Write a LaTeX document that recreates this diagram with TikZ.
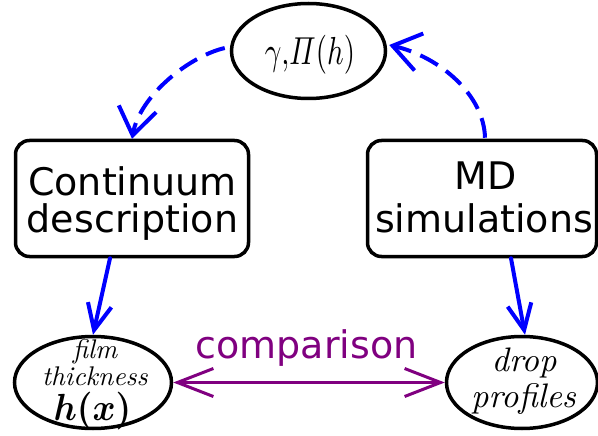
\documentclass[tikz,border=0pt]{standalone}
\usepackage{amsmath}
\usepackage{graphicx}
\usepackage{fontspec}
\newfontfamily\dejavu{DejaVu Sans}
\newfontfamily\lmtenit{lmroman10-italic.otf}
\DeclareFontShape{OML}{cmm}{m}{it}{<->cmmi10}{}
\DeclareFontShape{OML}{cmm}{b}{it}{<->cmmib10}{}
\DeclareFontShape{OT1}{cmr}{m}{n}{<->cmr10}{}
\DeclareFontShape{OT1}{cmr}{bx}{n}{<->cmbx10}{}
\DeclareFontShape{OMS}{cmsy}{m}{n}{<->cmsy10}{}
\DeclareFontShape{OMS}{cmsy}{b}{n}{<->cmbsy10}{}
\usetikzlibrary{arrows.meta,calc,shapes.geometric}
\definecolor{cmpurple}{RGB}{128,0,128}
\definecolor{cmblue}{RGB}{0,0,255}
\tikzset{
  ell/.style={draw, ellipse, line width=3.5pt, inner sep=0pt},
  procbox/.style={draw, rounded corners=14pt, line width=3.5pt, inner sep=0pt},
  sanstxt/.style={font=\dejavu\fontsize{38}{38}\selectfont, inner sep=0pt, anchor=base},
  ittxt/.style={font=\lmtenit\fontsize{27}{27}\selectfont, inner sep=0pt, anchor=base},
  itbig/.style={font=\lmtenit\fontsize{34}{34}\selectfont, inner sep=0pt, anchor=base},
  mathtxt/.style={font=\fontsize{34}{34}\selectfont, inner sep=0pt, anchor=base},
  solidarrow/.style={draw=cmblue, line width=4pt, line cap=round,
    -{Straight Barb[length=26pt, width=24pt]}},
  dasharrow/.style={draw=cmblue, line width=4pt, dash pattern=on 20pt off 10pt,
    -{Straight Barb[length=27pt, width=38pt]}},
  cmparrow/.style={draw=cmpurple, line width=3pt,
    {Straight Barb[length=36pt, width=28pt]}-{Straight Barb[length=36pt, width=28pt]}},
}
\begin{document}
\begin{tikzpicture}[x=1pt,y=-1pt]
\useasboundingbox (0,0) rectangle (598,436);
\fill[white] (0,0) rectangle (598,436);
% shapes
\node[ell, minimum width=154pt, minimum height=95pt] (gam) at (308.5,51) {};
\node[procbox, minimum width=233pt, minimum height=116pt] (cont) at (132,198.5) {};
\node[procbox, minimum width=229pt, minimum height=116pt] (md) at (482,198.5) {};
\node[ell, minimum width=157pt, minimum height=92pt] (thick) at (93,382.5) {};
\node[ell, minimum width=151pt, minimum height=92pt] (prof) at (522,382.5) {};
% texts
\node[mathtxt] (gtxt) at (310,65) {\scalebox{0.85}[1.15]{$\gamma{,}\varPi(h)$}};
\node[sanstxt] (c1) at (132.5,195.5) {Continuum};
\node[sanstxt] (c2) at (132.5,233) {description};
\node[sanstxt] (m1) at (486,189.5) {MD};
\node[sanstxt] (m2) at (484,232.5) {simulations};
\node[ittxt] (t1) at (95,358) {film};
\node[ittxt] (t2) at (95,385) {thickness};
\node[mathtxt, font=\fontsize{35}{35}\selectfont] (t3) at (92.5,420) {\scalebox{1}[1.08]{$\boldsymbol{h(x)}$}};
\node[itbig] (p1) at (524,371) {drop};
\node[itbig] (p2) at (523.5,407) {profiles};
\node[sanstxt, text=cmpurple] (cmp) at (306.5,358) {comparison};
% connectors
\draw[dasharrow] ($(gam.west)+(-5,-3)$) .. controls (190,56) and (140,95) .. (cont.north);
\draw[dasharrow] ($(md.north)+(3,-1)$) .. controls (484,95) and (440,57) .. ($(gam.east)+(2,-6)$);
\draw[solidarrow] ($(cont.south)+(-22,0)$) -- (thick.north);
\draw[solidarrow] ($(md.south)+(29,0)$) -- ($(prof.north)+(3,0)$);
\draw[cmparrow] (thick.east) -- (prof.west);
\end{tikzpicture}
\end{document}
